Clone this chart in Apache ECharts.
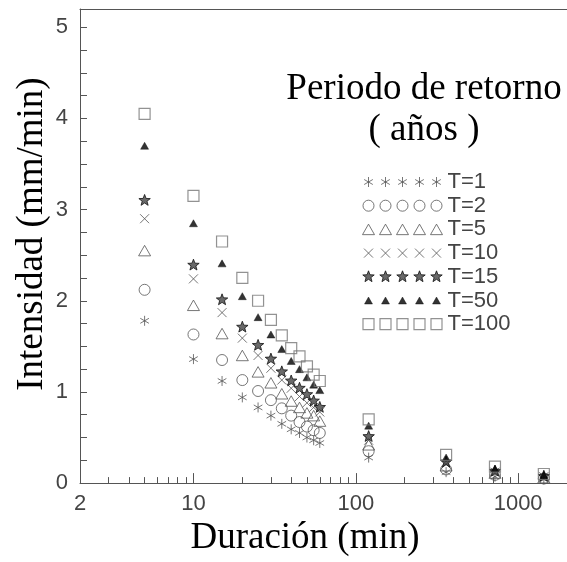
<!DOCTYPE html>
<html>
<head>
<meta charset="utf-8">
<script src="https://cdn.jsdelivr.net/npm/echarts@6/dist/echarts.min.js"></script>
<style>
  html, body { margin: 0; padding: 0; background: #fff; }
  #main { width: 567px; height: 562px; }
</style>
</head>
<body>
<div id="main"></div>
<script>
// duraciones (min) y las intensidades (mm/min)
var durations = [5, 10, 15, 20, 25, 30, 35, 40, 45, 50, 55, 60, 120, 360, 720, 1440];
var t1   = [1.78, 1.36, 1.12, 0.94, 0.83, 0.74, 0.65, 0.59, 0.55, 0.50, 0.47, 0.44, 0.28, 0.12, 0.07, 0.04];
var t2   = [2.12, 1.63, 1.35, 1.13, 1.01, 0.91, 0.82, 0.74, 0.67, 0.62, 0.58, 0.55, 0.35, 0.15, 0.09, 0.05];
var t5   = [2.55, 1.95, 1.64, 1.40, 1.22, 1.10, 0.98, 0.90, 0.83, 0.77, 0.74, 0.68, 0.42, 0.19, 0.11, 0.06];
var t10  = [2.90, 2.24, 1.87, 1.59, 1.40, 1.26, 1.13, 1.04, 0.95, 0.88, 0.83, 0.78, 0.47, 0.21, 0.12, 0.07];
var t15  = [3.10, 2.39, 2.01, 1.71, 1.51, 1.36, 1.22, 1.12, 1.04, 0.97, 0.90, 0.83, 0.51, 0.23, 0.13, 0.075];
var t50  = [3.70, 2.85, 2.41, 2.05, 1.82, 1.63, 1.47, 1.34, 1.25, 1.16, 1.08, 1.02, 0.63, 0.28, 0.16, 0.09];
var t100 = [4.05, 3.15, 2.65, 2.25, 2.00, 1.79, 1.62, 1.48, 1.39, 1.28, 1.19, 1.12, 0.70, 0.31, 0.18, 0.10];

var seriesNames = ['T=1', 'T=2', 'T=5', 'T=10', 'T=15', 'T=50', 'T=100'];
var xLabelValues = [2, 10, 100, 1000];
var xMajorTicks = [10, 100, 1000];
var xMinorTicks = [3, 4, 5, 6, 7, 8, 9, 20, 30, 40, 50, 60, 70, 80, 90, 200, 300, 400, 500, 600, 700, 800, 900];

// ---- formas de los simbolos ----
function f(n) { return (Math.round(n * 100) / 100).toString(); }
function ast(cx, cy, r) {
  var a = 0.866 * r, b = 0.5 * r;
  return 'M' + f(cx) + ' ' + f(cy - r) + 'L' + f(cx) + ' ' + f(cy + r) +
    'M' + f(cx - a) + ' ' + f(cy - b) + 'L' + f(cx + a) + ' ' + f(cy + b) +
    'M' + f(cx - a) + ' ' + f(cy + b) + 'L' + f(cx + a) + ' ' + f(cy - b);
}
function circ(cx, cy, r) {
  return 'M' + f(cx - r) + ' ' + f(cy) + 'A' + r + ' ' + r + ' 0 1 0 ' + f(cx + r) + ' ' + f(cy) +
    'A' + r + ' ' + r + ' 0 1 0 ' + f(cx - r) + ' ' + f(cy) + 'Z';
}
function tri(cx, cy, w, h) {
  return 'M' + f(cx) + ' ' + f(cy - h / 2) + 'L' + f(cx + w / 2) + ' ' + f(cy + h / 2) +
    'L' + f(cx - w / 2) + ' ' + f(cy + h / 2) + 'Z';
}
function cross(cx, cy, r) {
  return 'M' + f(cx - r) + ' ' + f(cy - r) + 'L' + f(cx + r) + ' ' + f(cy + r) +
    'M' + f(cx - r) + ' ' + f(cy + r) + 'L' + f(cx + r) + ' ' + f(cy - r);
}
function star(cx, cy, R) {
  var r = R * 0.42, s = '';
  for (var i = 0; i < 10; i++) {
    var ang = -Math.PI / 2 + i * Math.PI / 5;
    var rr = i % 2 ? r : R;
    s += (i ? 'L' : 'M') + f(cx + rr * Math.cos(ang)) + ' ' + f(cy + rr * Math.sin(ang));
  }
  return s + 'Z';
}
function sq(cx, cy, s) {
  var h = s / 2;
  return 'M' + f(cx - h) + ' ' + f(cy - h) + 'L' + f(cx + h) + ' ' + f(cy - h) +
    'L' + f(cx + h) + ' ' + f(cy + h) + 'L' + f(cx - h) + ' ' + f(cy + h) + 'Z';
}
var shapes = [
  function (x, y) { return ast(x, y, 5); },
  function (x, y) { return circ(x, y, 5.5); },
  function (x, y) { return tri(x, y, 12, 10.5); },
  function (x, y) { return cross(x, y, 4.5); },
  function (x, y) { return star(x, y, 6); },
  function (x, y) { return tri(x, y, 8, 7); },
  function (x, y) { return sq(x, y, 11); }
];
// el marco fija la caja del path para que no se deforme
function framed(w, h, body) { return 'path://M0 0M' + w + ' ' + h + body; }
function pointSymbol(k) { return framed(12, 12, shapes[k](6, 6)); }
function legendIcon(k) {
  var s = '';
  for (var i = 0; i < 5; i++) s += shapes[k](6 + 17 * i, 6);
  return framed(80, 12, s);
}

var styles = [
  { color: 'none', borderColor: '#555', borderWidth: 1 },
  { color: 'none', borderColor: '#555', borderWidth: 1 },
  { color: 'none', borderColor: '#555', borderWidth: 1 },
  { color: 'none', borderColor: '#555', borderWidth: 1 },
  { color: '#444', borderColor: '#111', borderWidth: 1 },
  { color: '#000', borderColor: '#000', borderWidth: 0.5 },
  { color: 'none', borderColor: '#777', borderWidth: 1.2 }
];

var allValues = [t1, t2, t5, t10, t15, t50, t100];
var series = allValues.map(function (vals, k) {
  return {
    name: seriesNames[k],
    type: 'scatter',
    symbol: pointSymbol(k),
    symbolSize: 12,
    itemStyle: styles[k],
    emphasis: { disabled: true },
    data: durations.map(function (d, i) { return [d, vals[i]]; })
  };
});

var axisGray = '#555';
var labelFont = { fontFamily: 'Liberation Sans', fontSize: 22, color: '#444' };

var myChart = echarts.init(document.getElementById('main'));
var option = {
  animation: false,
  title: {
    text: 'Periodo de retorno\n( años )',
    left: 419,
    top: 64,
    textAlign: 'center',
    textStyle: { fontFamily: 'Liberation Serif', fontSize: 37, fontWeight: 'normal', color: '#000', lineHeight: 41 }
  },
  legend: {
    orient: 'vertical',
    left: 355,
    top: 166,
    itemWidth: 80,
    itemHeight: 12,
    itemGap: 1.7,
    itemTextGap: 10,
    selectedMode: false,
    textStyle: { fontFamily: 'Liberation Sans', fontSize: 22, color: '#444', lineHeight: 22 },
    data: seriesNames.map(function (n, k) {
      return { name: n, icon: legendIcon(k), itemStyle: styles[k] };
    })
  },
  grid: { left: 80, right: 0, top: 9, bottom: 72 },
  xAxis: [
    {
      type: 'log', logBase: 10, min: 2, max: 2000, position: 'bottom',
      name: 'Duración (min)', nameLocation: 'middle', nameGap: 33,
      nameTextStyle: { fontFamily: 'Liberation Serif', fontSize: 37, color: '#000', padding: [0, 37, 0, 0] },
      axisLine: { lineStyle: { color: axisGray } },
      axisTick: { inside: true, length: 6, customValues: xMinorTicks, lineStyle: { color: axisGray } },
      axisLabel: Object.assign({
        margin: 10,
        customValues: xLabelValues,
        formatter: function (v) { return String(Math.round(v)); }
      }, labelFont),
      splitLine: { show: false }
    },
    {
      type: 'log', logBase: 10, min: 2, max: 2000, position: 'bottom',
      axisLine: { show: false },
      axisTick: { inside: true, length: 10, customValues: xMajorTicks, lineStyle: { color: axisGray } },
      axisLabel: { show: false },
      splitLine: { show: false }
    },
    {
      type: 'log', logBase: 10, min: 2, max: 2000, position: 'top',
      axisLine: { lineStyle: { color: axisGray } },
      axisTick: { show: false },
      axisLabel: { show: false },
      splitLine: { show: false }
    }
  ],
  yAxis: {
    type: 'value', min: 0, max: 5.2, interval: 0.25,
    name: 'Intensidad (mm/min)', nameLocation: 'middle', nameGap: 29, nameMoveOverlap: false,
    nameTextStyle: { fontFamily: 'Liberation Serif', fontSize: 37, color: '#000', padding: [0, 0, 0, 24] },
    axisLine: { show: true, lineStyle: { color: axisGray } },
    axisTick: { inside: true, length: 7, lineStyle: { color: axisGray } },
    axisLabel: Object.assign({
      margin: 12,
      formatter: function (v) { return Number.isInteger(v) ? String(v) : ''; }
    }, labelFont),
    splitLine: { show: false }
  },
  series: series
};
myChart.setOption(option);
</script>
</body>
</html>
